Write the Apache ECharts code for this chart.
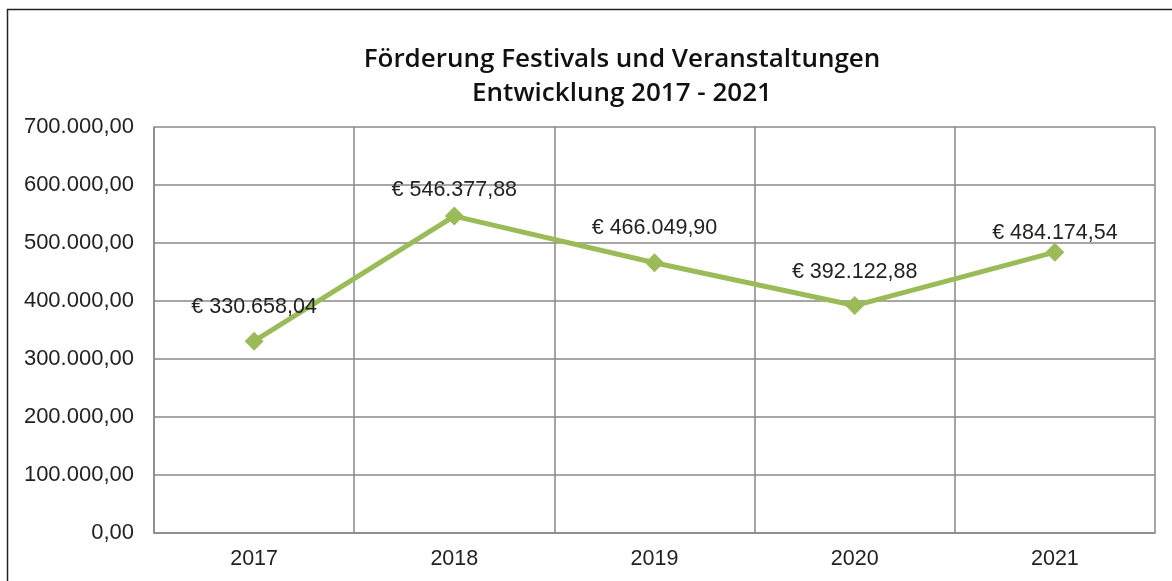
<!DOCTYPE html>
<html>
<head>
<meta charset="utf-8">
<script src="https://cdn.jsdelivr.net/npm/echarts@6/dist/echarts.min.js"></script>
<style>
  html, body { margin: 0; padding: 0; background: #fff; }
  #main { width: 1172px; height: 581px; }
</style>
</head>
<body>
<div id="main"></div>
<script>
// Daten
const years = ["2017", "2018", "2019", "2020", "2021"];
const amounts = [330658.04, 546377.88, 466049.90, 392122.88, 484174.54];
const yTicks = [0, 100000, 200000, 300000, 400000, 500000, 600000, 700000];

// Abstand der Beschriftung über dem Punkt (wie im Original etwas unregelmäßig)
const labelGap = [14, 6, 14, 13, -1];

// deutsche Zahlenformatierung: 546377.88 -> 546.377,88
const fmtDe = (v) => {
  let parts = v.toFixed(2).split(".");
  parts[0] = parts[0].replace(/\B(?=(\d{3})+(?!\d))/g, ".");
  return parts[0] + "," + parts[1];
};

const chartDom = document.getElementById("main");
const myChart = echarts.init(chartDom);

let seriesData = [];
amounts.forEach((v, i) => {
  seriesData.push({ value: v, label: { distance: labelGap[i] } });
});

const option = {
  animation: false,
  backgroundColor: "#fff",
  title: {
    text: "Förderung Festivals und Veranstaltungen\nEntwicklung 2017 - 2021",
    left: 617,
    top: 38,
    textAlign: "center",
    textStyle: {
      fontFamily: "Open Sans",
      fontWeight: 600,
      fontSize: 26,
      lineHeight: 34,
      color: "#111",
    },
  },
  graphic: [
    {
      type: "rect",
      shape: { x: 7.5, y: 9.5, width: 1300, height: 700 },
      style: { fill: "none", stroke: "#222", lineWidth: 1.5 },
      silent: true,
    },
  ],
  grid: {
    left: 154,
    right: 17,
    top: 127,
    bottom: 48,
  },
  xAxis: {
    type: "category",
    data: years,
    boundaryGap: true,
    axisTick: { show: false },
    axisLine: { show: true, lineStyle: { color: "#888", width: 1.5 } },
    axisLabel: {
      margin: 15,
      fontFamily: "Liberation Sans",
      fontSize: 21.5,
      color: "#222",
    },
    splitLine: { show: true, lineStyle: { color: "#888", width: 1.5 } },
  },
  yAxis: {
    type: "value",
    min: yTicks[0],
    max: yTicks[yTicks.length - 1],
    interval: 100000,
    axisLine: { show: true, lineStyle: { color: "#888", width: 1.5 } },
    axisTick: { show: false },
    axisLabel: {
      margin: 20,
      fontFamily: "Liberation Sans",
      fontSize: 22,
      color: "#222",
      formatter: (v) => fmtDe(v),
    },
    splitLine: { show: true, lineStyle: { color: "#888", width: 1.5 } },
  },
  series: [
    {
      type: "line",
      data: seriesData,
      symbol: "diamond",
      symbolSize: 19,
      lineStyle: { color: "#9BBB59", width: 5 },
      itemStyle: { color: "#9BBB59" },
      label: {
        show: true,
        position: "top",
        fontFamily: "Liberation Sans",
        fontSize: 21.5,
        color: "#222",
        formatter: (p) => "€ " + fmtDe(p.value),
      },
    },
  ],
};

option && myChart.setOption(option);
</script>
</body>
</html>
